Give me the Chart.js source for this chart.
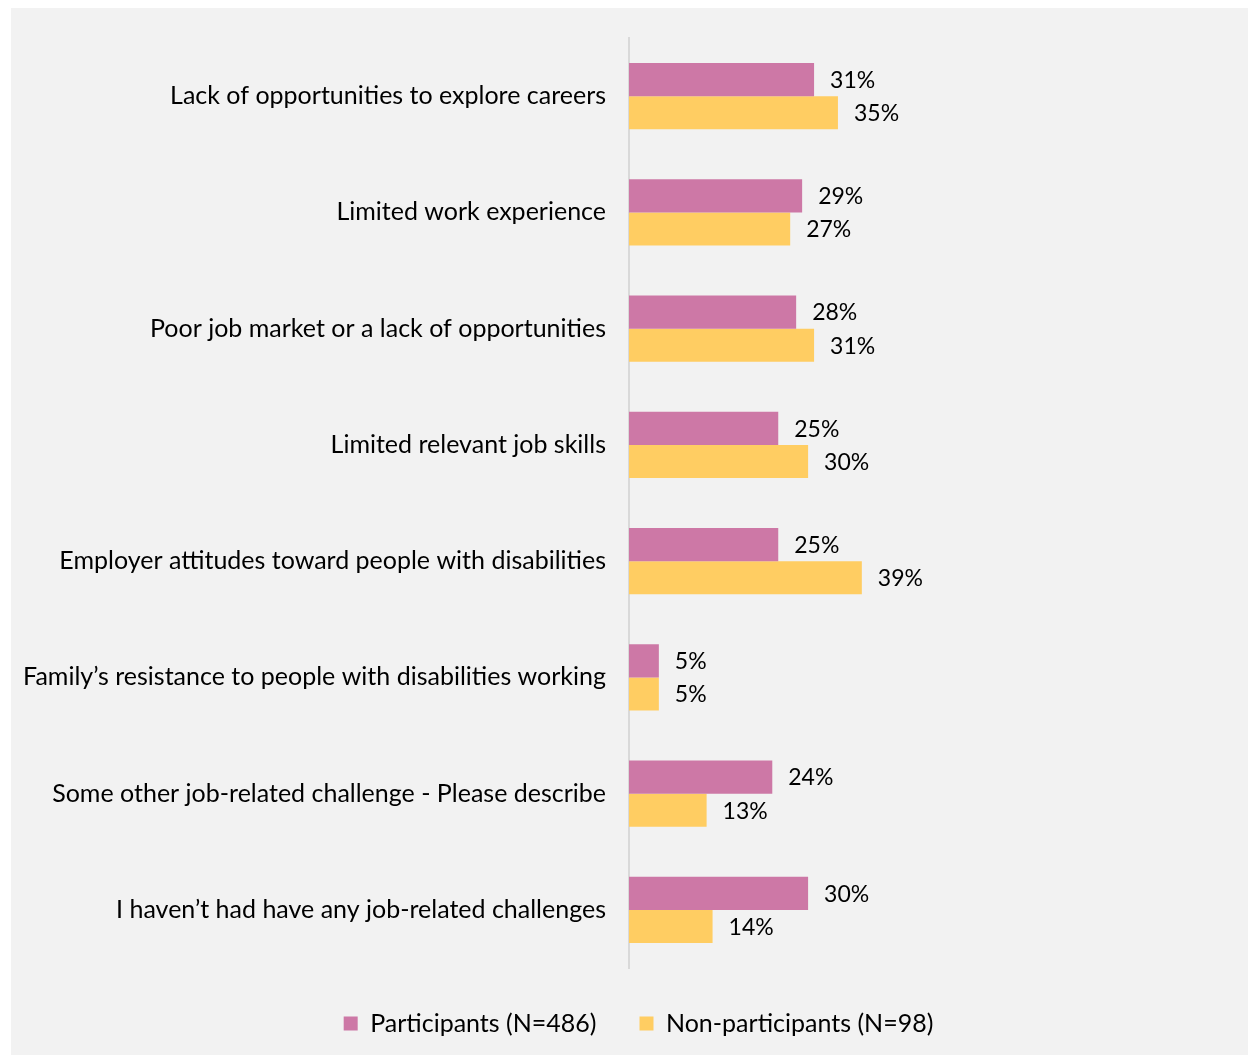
<!DOCTYPE html>
<html>
<head>
<meta charset="utf-8">
<title>Job-related challenges</title>
<script src="https://cdn.jsdelivr.net/npm/chart.js@4/dist/chart.umd.min.js"></script>
<style>
  html, body { margin: 0; padding: 0; background: #fff; }
  #panel {
    position: absolute; left: 11px; top: 8px;
    width: 1237px; height: 1047px; background: #f2f2f2;
  }
  #chart { display: block; }
</style>
</head>
<body>
<div id="panel"><canvas id="chart" width="1237" height="1047"></canvas></div>
<script>
const categories = [
  "Lack of opportunities to explore careers",
  "Limited work experience",
  "Poor job market or a lack of opportunities",
  "Limited relevant job skills",
  "Employer attitudes toward people with disabilities",
  "Family\u2019s resistance to people with disabilities working",
  "Some other job-related challenge - Please describe",
  "I haven\u2019t had have any job-related challenges"
];
const participants = [31, 29, 28, 25, 25, 5, 24, 30];
const nonParticipants = [35, 27, 31, 30, 39, 5, 13, 14];
const seriesNames = ["Participants (N=486)", "Non-participants (N=98)"];
const seriesColors = ["#cd78a6", "#ffcd62"];

const FONT = "Lato, 'Open Sans', sans-serif";

// percent labels drawn just past the end of each bar
const barValueLabels = {
  id: "barValueLabels",
  afterDatasetsDraw(chart) {
    const ctx = chart.ctx;
    ctx.save();
    ctx.font = "23px " + FONT;
    ctx.fillStyle = "#000";
    ctx.textAlign = "left";
    ctx.textBaseline = "middle";
    chart.data.datasets.forEach((ds, di) => {
      chart.getDatasetMeta(di).data.forEach((bar, i) => {
        ctx.fillText(ds.data[i] + "%", bar.x + 16, bar.y + 1);
      });
    });
    ctx.restore();
  }
};

// nudge the legend a little to the right of the canvas centre
const legendShift = {
  id: "legendShift",
  afterLayout(chart) {
    if (!chart.legend) return;
    chart.legend.left += 20;
    chart.legend.right += 20;
  }
};

new Chart(document.getElementById("chart"), {
  type: "bar",
  data: {
    labels: categories,
    datasets: [
      { label: seriesNames[0], data: participants, backgroundColor: seriesColors[0] },
      { label: seriesNames[1], data: nonParticipants, backgroundColor: seriesColors[1] }
    ]
  },
  options: {
    indexAxis: "y",
    responsive: false,
    animation: false,
    categoryPercentage: 0.57,
    barPercentage: 1.0,
    layout: { padding: { top: 30, right: 22, bottom: 9, left: 0 } },
    scales: {
      x: { display: false, min: 0, max: 100 },
      y: {
        grid: { display: false, drawTicks: false },
        border: { display: true, color: "#d9d9d9", width: 2 },
        ticks: { color: "#000", padding: 23, font: { family: FONT, size: 25 } },
        afterFit(scale) {
          scale.width = 618;
          scale.paddingTop = 0;
          scale.paddingBottom = 0;
        }
      }
    },
    plugins: {
      legend: {
        position: "bottom",
        labels: {
          color: "#000",
          boxWidth: 14,
          boxHeight: 14,
          padding: 43,
          font: { family: FONT, size: 25 }
        }
      },
      tooltip: { enabled: false }
    }
  },
  plugins: [barValueLabels, legendShift]
});
</script>
</body>
</html>
